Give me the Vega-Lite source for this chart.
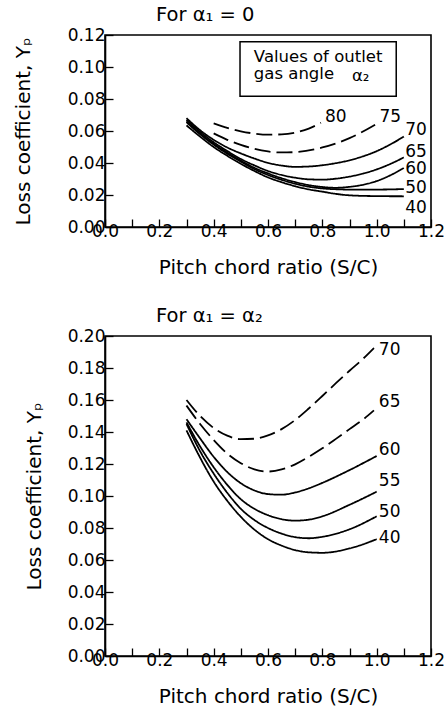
{
  "$schema": "https://vega.github.io/schema/vega-lite/v6.json",
  "padding": {"left": 12, "top": 3, "right": 0, "bottom": 0},
  "bounds": "flush",
  "spacing": 109,
  "config": {
    "font": "DejaVu Sans",
    "view": {"stroke": "black", "strokeWidth": 1.6},
    "axis": {
      "grid": false,
      "domainColor": "black",
      "domainWidth": 1.6,
      "tickColor": "black",
      "tickWidth": 1.3,
      "tickSize": -8,
      "labelColor": "black",
      "labelFontSize": 17,
      "labelPadding": 8,
      "labelFlush": false,
      "labelOverlap": false,
      "titleColor": "black",
      "titleFontSize": 20,
      "titleFontWeight": "normal"
    },
    "title": {"fontSize": 19.5, "fontWeight": "normal", "color": "black", "anchor": "start", "frame": "group", "dx": 51, "offset": 1}
  },
  "datasets": {
    "topCurves": [
      {"angle": "80", "style": "dashed", "x": 0.4, "y": 0.0648},
      {"angle": "80", "style": "dashed", "x": 0.45, "y": 0.062},
      {"angle": "80", "style": "dashed", "x": 0.5, "y": 0.0598},
      {"angle": "80", "style": "dashed", "x": 0.55, "y": 0.0584},
      {"angle": "80", "style": "dashed", "x": 0.6, "y": 0.0577},
      {"angle": "80", "style": "dashed", "x": 0.65, "y": 0.0579},
      {"angle": "80", "style": "dashed", "x": 0.7, "y": 0.059},
      {"angle": "80", "style": "dashed", "x": 0.75, "y": 0.0615},
      {"angle": "80", "style": "dashed", "x": 0.795, "y": 0.0652},
      {"angle": "75", "style": "dashed", "x": 0.4, "y": 0.0585},
      {"angle": "75", "style": "dashed", "x": 0.45, "y": 0.0545},
      {"angle": "75", "style": "dashed", "x": 0.5, "y": 0.0513},
      {"angle": "75", "style": "dashed", "x": 0.55, "y": 0.0488},
      {"angle": "75", "style": "dashed", "x": 0.6, "y": 0.0472},
      {"angle": "75", "style": "dashed", "x": 0.65, "y": 0.0466},
      {"angle": "75", "style": "dashed", "x": 0.7, "y": 0.0468},
      {"angle": "75", "style": "dashed", "x": 0.8, "y": 0.0497},
      {"angle": "75", "style": "dashed", "x": 0.9, "y": 0.0555},
      {"angle": "75", "style": "dashed", "x": 1.0, "y": 0.0645},
      {"angle": "70", "style": "solid", "x": 0.3, "y": 0.068},
      {"angle": "70", "style": "solid", "x": 0.35, "y": 0.0605},
      {"angle": "70", "style": "solid", "x": 0.4, "y": 0.0545},
      {"angle": "70", "style": "solid", "x": 0.45, "y": 0.0497},
      {"angle": "70", "style": "solid", "x": 0.5, "y": 0.046},
      {"angle": "70", "style": "solid", "x": 0.55, "y": 0.0428},
      {"angle": "70", "style": "solid", "x": 0.6, "y": 0.0401},
      {"angle": "70", "style": "solid", "x": 0.65, "y": 0.0384},
      {"angle": "70", "style": "solid", "x": 0.7, "y": 0.0376},
      {"angle": "70", "style": "solid", "x": 0.75, "y": 0.0378},
      {"angle": "70", "style": "solid", "x": 0.8, "y": 0.0386},
      {"angle": "70", "style": "solid", "x": 0.85, "y": 0.0399},
      {"angle": "70", "style": "solid", "x": 0.9, "y": 0.0417},
      {"angle": "70", "style": "solid", "x": 0.95, "y": 0.0442},
      {"angle": "70", "style": "solid", "x": 1.0, "y": 0.0474},
      {"angle": "70", "style": "solid", "x": 1.05, "y": 0.0516},
      {"angle": "70", "style": "solid", "x": 1.1, "y": 0.0565},
      {"angle": "65", "style": "solid", "x": 0.3, "y": 0.067},
      {"angle": "65", "style": "solid", "x": 0.35, "y": 0.0595},
      {"angle": "65", "style": "solid", "x": 0.4, "y": 0.053},
      {"angle": "65", "style": "solid", "x": 0.45, "y": 0.0475},
      {"angle": "65", "style": "solid", "x": 0.5, "y": 0.0425},
      {"angle": "65", "style": "solid", "x": 0.55, "y": 0.0385},
      {"angle": "65", "style": "solid", "x": 0.6, "y": 0.035},
      {"angle": "65", "style": "solid", "x": 0.65, "y": 0.0325},
      {"angle": "65", "style": "solid", "x": 0.7, "y": 0.0308},
      {"angle": "65", "style": "solid", "x": 0.75, "y": 0.0298},
      {"angle": "65", "style": "solid", "x": 0.8, "y": 0.0296},
      {"angle": "65", "style": "solid", "x": 0.85, "y": 0.0302},
      {"angle": "65", "style": "solid", "x": 0.9, "y": 0.0315},
      {"angle": "65", "style": "solid", "x": 0.95, "y": 0.0334},
      {"angle": "65", "style": "solid", "x": 1.0, "y": 0.036},
      {"angle": "65", "style": "solid", "x": 1.05, "y": 0.0394},
      {"angle": "65", "style": "solid", "x": 1.1, "y": 0.0435},
      {"angle": "60", "style": "solid", "x": 0.3, "y": 0.066},
      {"angle": "60", "style": "solid", "x": 0.35, "y": 0.0585},
      {"angle": "60", "style": "solid", "x": 0.4, "y": 0.052},
      {"angle": "60", "style": "solid", "x": 0.45, "y": 0.0465},
      {"angle": "60", "style": "solid", "x": 0.5, "y": 0.0415},
      {"angle": "60", "style": "solid", "x": 0.55, "y": 0.037},
      {"angle": "60", "style": "solid", "x": 0.6, "y": 0.0335},
      {"angle": "60", "style": "solid", "x": 0.65, "y": 0.0305},
      {"angle": "60", "style": "solid", "x": 0.7, "y": 0.0281},
      {"angle": "60", "style": "solid", "x": 0.75, "y": 0.0262},
      {"angle": "60", "style": "solid", "x": 0.8, "y": 0.025},
      {"angle": "60", "style": "solid", "x": 0.85, "y": 0.0245},
      {"angle": "60", "style": "solid", "x": 0.9, "y": 0.0251},
      {"angle": "60", "style": "solid", "x": 0.95, "y": 0.0264},
      {"angle": "60", "style": "solid", "x": 1.0, "y": 0.0287},
      {"angle": "60", "style": "solid", "x": 1.05, "y": 0.0323},
      {"angle": "60", "style": "solid", "x": 1.1, "y": 0.0369},
      {"angle": "50", "style": "solid", "x": 0.3, "y": 0.0655},
      {"angle": "50", "style": "solid", "x": 0.35, "y": 0.058},
      {"angle": "50", "style": "solid", "x": 0.4, "y": 0.0515},
      {"angle": "50", "style": "solid", "x": 0.45, "y": 0.0458},
      {"angle": "50", "style": "solid", "x": 0.5, "y": 0.0408},
      {"angle": "50", "style": "solid", "x": 0.55, "y": 0.0362},
      {"angle": "50", "style": "solid", "x": 0.6, "y": 0.0325},
      {"angle": "50", "style": "solid", "x": 0.65, "y": 0.0295},
      {"angle": "50", "style": "solid", "x": 0.7, "y": 0.027},
      {"angle": "50", "style": "solid", "x": 0.75, "y": 0.0252},
      {"angle": "50", "style": "solid", "x": 0.8, "y": 0.0241},
      {"angle": "50", "style": "solid", "x": 0.85, "y": 0.0236},
      {"angle": "50", "style": "solid", "x": 0.9, "y": 0.0234},
      {"angle": "50", "style": "solid", "x": 1.0, "y": 0.0234},
      {"angle": "50", "style": "solid", "x": 1.1, "y": 0.0237},
      {"angle": "40", "style": "solid", "x": 0.3, "y": 0.0635},
      {"angle": "40", "style": "solid", "x": 0.35, "y": 0.0565},
      {"angle": "40", "style": "solid", "x": 0.4, "y": 0.05},
      {"angle": "40", "style": "solid", "x": 0.45, "y": 0.0445},
      {"angle": "40", "style": "solid", "x": 0.5, "y": 0.0395},
      {"angle": "40", "style": "solid", "x": 0.55, "y": 0.035},
      {"angle": "40", "style": "solid", "x": 0.6, "y": 0.031},
      {"angle": "40", "style": "solid", "x": 0.65, "y": 0.028},
      {"angle": "40", "style": "solid", "x": 0.7, "y": 0.0255},
      {"angle": "40", "style": "solid", "x": 0.75, "y": 0.0235},
      {"angle": "40", "style": "solid", "x": 0.8, "y": 0.0221},
      {"angle": "40", "style": "solid", "x": 0.85, "y": 0.0207},
      {"angle": "40", "style": "solid", "x": 0.9, "y": 0.0198},
      {"angle": "40", "style": "solid", "x": 1.0, "y": 0.0193},
      {"angle": "40", "style": "solid", "x": 1.1, "y": 0.0192}
    ],
    "topLabels": [
      {"x": 0.81, "y": 0.0688, "label": "80"},
      {"x": 1.01, "y": 0.069, "label": "75"},
      {"x": 1.105, "y": 0.0606, "label": "70"},
      {"x": 1.105, "y": 0.0467, "label": "65"},
      {"x": 1.105, "y": 0.0363, "label": "60"},
      {"x": 1.105, "y": 0.0242, "label": "50"},
      {"x": 1.105, "y": 0.0119, "label": "40"}
    ],
    "topBox": [
      {"x1": 0.497, "x2": 1.072, "y1": 0.0817, "y2": 0.1158}
    ],
    "topNote": [
      {"x": 0.548, "y": 0.1029, "label": "Values of outlet"},
      {"x": 0.548, "y": 0.0925, "label": "gas angle"},
      {"x": 0.909, "y": 0.0915, "label": "α₂"}
    ],
    "bottomCurves": [
      {"angle": "70", "style": "dashed", "x": 0.3, "y": 0.16},
      {"angle": "70", "style": "dashed", "x": 0.35, "y": 0.15},
      {"angle": "70", "style": "dashed", "x": 0.4, "y": 0.1425},
      {"angle": "70", "style": "dashed", "x": 0.45, "y": 0.1377},
      {"angle": "70", "style": "dashed", "x": 0.5, "y": 0.1355},
      {"angle": "70", "style": "dashed", "x": 0.55, "y": 0.1358},
      {"angle": "70", "style": "dashed", "x": 0.6, "y": 0.1379},
      {"angle": "70", "style": "dashed", "x": 0.65, "y": 0.1418},
      {"angle": "70", "style": "dashed", "x": 0.7, "y": 0.1475},
      {"angle": "70", "style": "dashed", "x": 0.75, "y": 0.1547},
      {"angle": "70", "style": "dashed", "x": 0.8, "y": 0.1625},
      {"angle": "70", "style": "dashed", "x": 0.85, "y": 0.1705},
      {"angle": "70", "style": "dashed", "x": 0.9, "y": 0.1783},
      {"angle": "70", "style": "dashed", "x": 0.95, "y": 0.1858},
      {"angle": "70", "style": "dashed", "x": 0.99, "y": 0.1925},
      {"angle": "65", "style": "dashed", "x": 0.3, "y": 0.1565},
      {"angle": "65", "style": "dashed", "x": 0.35, "y": 0.145},
      {"angle": "65", "style": "dashed", "x": 0.4, "y": 0.135},
      {"angle": "65", "style": "dashed", "x": 0.45, "y": 0.1265},
      {"angle": "65", "style": "dashed", "x": 0.5, "y": 0.1205},
      {"angle": "65", "style": "dashed", "x": 0.55, "y": 0.1166},
      {"angle": "65", "style": "dashed", "x": 0.6, "y": 0.1153},
      {"angle": "65", "style": "dashed", "x": 0.65, "y": 0.1166},
      {"angle": "65", "style": "dashed", "x": 0.7, "y": 0.1198},
      {"angle": "65", "style": "dashed", "x": 0.75, "y": 0.1245},
      {"angle": "65", "style": "dashed", "x": 0.8, "y": 0.1298},
      {"angle": "65", "style": "dashed", "x": 0.85, "y": 0.1357},
      {"angle": "65", "style": "dashed", "x": 0.9, "y": 0.1418},
      {"angle": "65", "style": "dashed", "x": 0.95, "y": 0.1478},
      {"angle": "65", "style": "dashed", "x": 0.99, "y": 0.1535},
      {"angle": "60", "style": "solid", "x": 0.3, "y": 0.148},
      {"angle": "60", "style": "solid", "x": 0.35, "y": 0.136},
      {"angle": "60", "style": "solid", "x": 0.4, "y": 0.1245},
      {"angle": "60", "style": "solid", "x": 0.45, "y": 0.115},
      {"angle": "60", "style": "solid", "x": 0.5, "y": 0.108},
      {"angle": "60", "style": "solid", "x": 0.55, "y": 0.1035},
      {"angle": "60", "style": "solid", "x": 0.6, "y": 0.1012},
      {"angle": "60", "style": "solid", "x": 0.65, "y": 0.1008},
      {"angle": "60", "style": "solid", "x": 0.7, "y": 0.1022},
      {"angle": "60", "style": "solid", "x": 0.75, "y": 0.1048},
      {"angle": "60", "style": "solid", "x": 0.8, "y": 0.1082},
      {"angle": "60", "style": "solid", "x": 0.9, "y": 0.1162},
      {"angle": "60", "style": "solid", "x": 1.0, "y": 0.125},
      {"angle": "55", "style": "solid", "x": 0.3, "y": 0.146},
      {"angle": "55", "style": "solid", "x": 0.35, "y": 0.131},
      {"angle": "55", "style": "solid", "x": 0.4, "y": 0.118},
      {"angle": "55", "style": "solid", "x": 0.45, "y": 0.107},
      {"angle": "55", "style": "solid", "x": 0.5, "y": 0.098},
      {"angle": "55", "style": "solid", "x": 0.55, "y": 0.092},
      {"angle": "55", "style": "solid", "x": 0.6, "y": 0.088},
      {"angle": "55", "style": "solid", "x": 0.65, "y": 0.0855},
      {"angle": "55", "style": "solid", "x": 0.7, "y": 0.0846},
      {"angle": "55", "style": "solid", "x": 0.75, "y": 0.0852},
      {"angle": "55", "style": "solid", "x": 0.8, "y": 0.0873},
      {"angle": "55", "style": "solid", "x": 0.9, "y": 0.0945},
      {"angle": "55", "style": "solid", "x": 1.0, "y": 0.1027},
      {"angle": "50", "style": "solid", "x": 0.3, "y": 0.145},
      {"angle": "50", "style": "solid", "x": 0.35, "y": 0.128},
      {"angle": "50", "style": "solid", "x": 0.4, "y": 0.114},
      {"angle": "50", "style": "solid", "x": 0.45, "y": 0.102},
      {"angle": "50", "style": "solid", "x": 0.5, "y": 0.092},
      {"angle": "50", "style": "solid", "x": 0.55, "y": 0.085},
      {"angle": "50", "style": "solid", "x": 0.6, "y": 0.08},
      {"angle": "50", "style": "solid", "x": 0.65, "y": 0.0765},
      {"angle": "50", "style": "solid", "x": 0.7, "y": 0.0743},
      {"angle": "50", "style": "solid", "x": 0.75, "y": 0.0736},
      {"angle": "50", "style": "solid", "x": 0.8, "y": 0.0745},
      {"angle": "50", "style": "solid", "x": 0.9, "y": 0.0792},
      {"angle": "50", "style": "solid", "x": 1.0, "y": 0.0873},
      {"angle": "40", "style": "solid", "x": 0.3, "y": 0.141},
      {"angle": "40", "style": "solid", "x": 0.35, "y": 0.124},
      {"angle": "40", "style": "solid", "x": 0.4, "y": 0.109},
      {"angle": "40", "style": "solid", "x": 0.45, "y": 0.097},
      {"angle": "40", "style": "solid", "x": 0.5, "y": 0.087},
      {"angle": "40", "style": "solid", "x": 0.55, "y": 0.079},
      {"angle": "40", "style": "solid", "x": 0.6, "y": 0.073},
      {"angle": "40", "style": "solid", "x": 0.65, "y": 0.069},
      {"angle": "40", "style": "solid", "x": 0.7, "y": 0.0662},
      {"angle": "40", "style": "solid", "x": 0.75, "y": 0.0648},
      {"angle": "40", "style": "solid", "x": 0.8, "y": 0.0645},
      {"angle": "40", "style": "solid", "x": 0.9, "y": 0.0672},
      {"angle": "40", "style": "solid", "x": 1.0, "y": 0.073}
    ],
    "bottomLabels": [
      {"x": 1.008, "y": 0.191, "label": "70"},
      {"x": 1.008, "y": 0.159, "label": "65"},
      {"x": 1.008, "y": 0.129, "label": "60"},
      {"x": 1.008, "y": 0.1096, "label": "55"},
      {"x": 1.008, "y": 0.09, "label": "50"},
      {"x": 1.008, "y": 0.074, "label": "40"}
    ]
  },
  "vconcat": [
    {
      "width": 326,
      "height": 192,
      "title": {"text": "For α₁ = 0"},
      "layer": [
        {
          "data": {"name": "topCurves"},
          "mark": {"type": "line", "interpolate": "monotone", "color": "black", "strokeWidth": 1.8},
          "encoding": {
            "x": {"field": "x", "type": "quantitative", "scale": {"domain": [0, 1.2], "nice": false},
              "axis": {"title": "Pitch chord ratio (S/C)", "values": [0, 0.1, 0.2, 0.3, 0.4, 0.5, 0.6, 0.7, 0.8, 0.9, 1.0, 1.1, 1.2], "tickCount": 20,
                "labelExpr": "round(datum.value*10) % 2 == 0 ? format(datum.value, '.1f') : ''", "labelPadding": 4, "titlePadding": 18, "labelOverlap": false}},
            "y": {"field": "y", "type": "quantitative", "scale": {"domain": [0, 0.12], "nice": false},
              "axis": {"title": "Loss coefficient,  Yₚ", "values": [0, 0.02, 0.04, 0.06, 0.08, 0.1, 0.12], "tickCount": 20, "format": ".2f", "titlePadding": 34, "labelOverlap": false}},
            "detail": {"field": "angle", "type": "nominal"},
            "strokeDash": {"field": "style", "type": "nominal", "scale": {"domain": ["solid", "dashed"], "range": [[1, 0], [16, 6]]}, "legend": null}
          }
        },
        {
          "data": {"name": "topBox"},
          "mark": {"type": "rect", "fill": "white", "stroke": "black", "strokeWidth": 1.5},
          "encoding": {
            "x": {"field": "x1", "type": "quantitative"},
            "x2": {"field": "x2"},
            "y": {"field": "y1", "type": "quantitative"},
            "y2": {"field": "y2"}
          }
        },
        {
          "data": {"name": "topNote"},
          "mark": {"type": "text", "align": "left", "baseline": "alphabetic", "fontSize": 16.5, "color": "black"},
          "encoding": {
            "x": {"field": "x", "type": "quantitative"},
            "y": {"field": "y", "type": "quantitative"},
            "text": {"field": "label"}
          }
        },
        {
          "data": {"name": "topLabels"},
          "mark": {"type": "text", "align": "left", "baseline": "middle", "fontSize": 17, "color": "black"},
          "encoding": {
            "x": {"field": "x", "type": "quantitative"},
            "y": {"field": "y", "type": "quantitative"},
            "text": {"field": "label"}
          }
        }
      ]
    },
    {
      "width": 326,
      "height": 320,
      "title": {"text": "For α₁ = α₂"},
      "layer": [
        {
          "data": {"name": "bottomCurves"},
          "mark": {"type": "line", "interpolate": "monotone", "color": "black", "strokeWidth": 1.8},
          "encoding": {
            "x": {"field": "x", "type": "quantitative", "scale": {"domain": [0, 1.2], "nice": false},
              "axis": {"title": "Pitch chord ratio (S/C)", "values": [0, 0.1, 0.2, 0.3, 0.4, 0.5, 0.6, 0.7, 0.8, 0.9, 1.0, 1.1, 1.2], "tickCount": 20,
                "labelExpr": "round(datum.value*10) % 2 == 0 ? format(datum.value, '.1f') : ''", "labelPadding": 4, "titlePadding": 18, "labelOverlap": false}},
            "y": {"field": "y", "type": "quantitative", "scale": {"domain": [0, 0.2], "nice": false},
              "axis": {"title": "Loss coefficient,    Yₚ", "values": [0, 0.02, 0.04, 0.06, 0.08, 0.1, 0.12, 0.14, 0.16, 0.18, 0.2], "tickCount": 20, "format": ".2f", "titlePadding": 23, "labelOverlap": false}},
            "detail": {"field": "angle", "type": "nominal"},
            "strokeDash": {"field": "style", "type": "nominal", "scale": {"domain": ["solid", "dashed"], "range": [[1, 0], [16, 6]]}, "legend": null}
          }
        },
        {
          "data": {"name": "bottomLabels"},
          "mark": {"type": "text", "align": "left", "baseline": "middle", "fontSize": 17, "color": "black"},
          "encoding": {
            "x": {"field": "x", "type": "quantitative"},
            "y": {"field": "y", "type": "quantitative"},
            "text": {"field": "label"}
          }
        }
      ]
    }
  ]
}
